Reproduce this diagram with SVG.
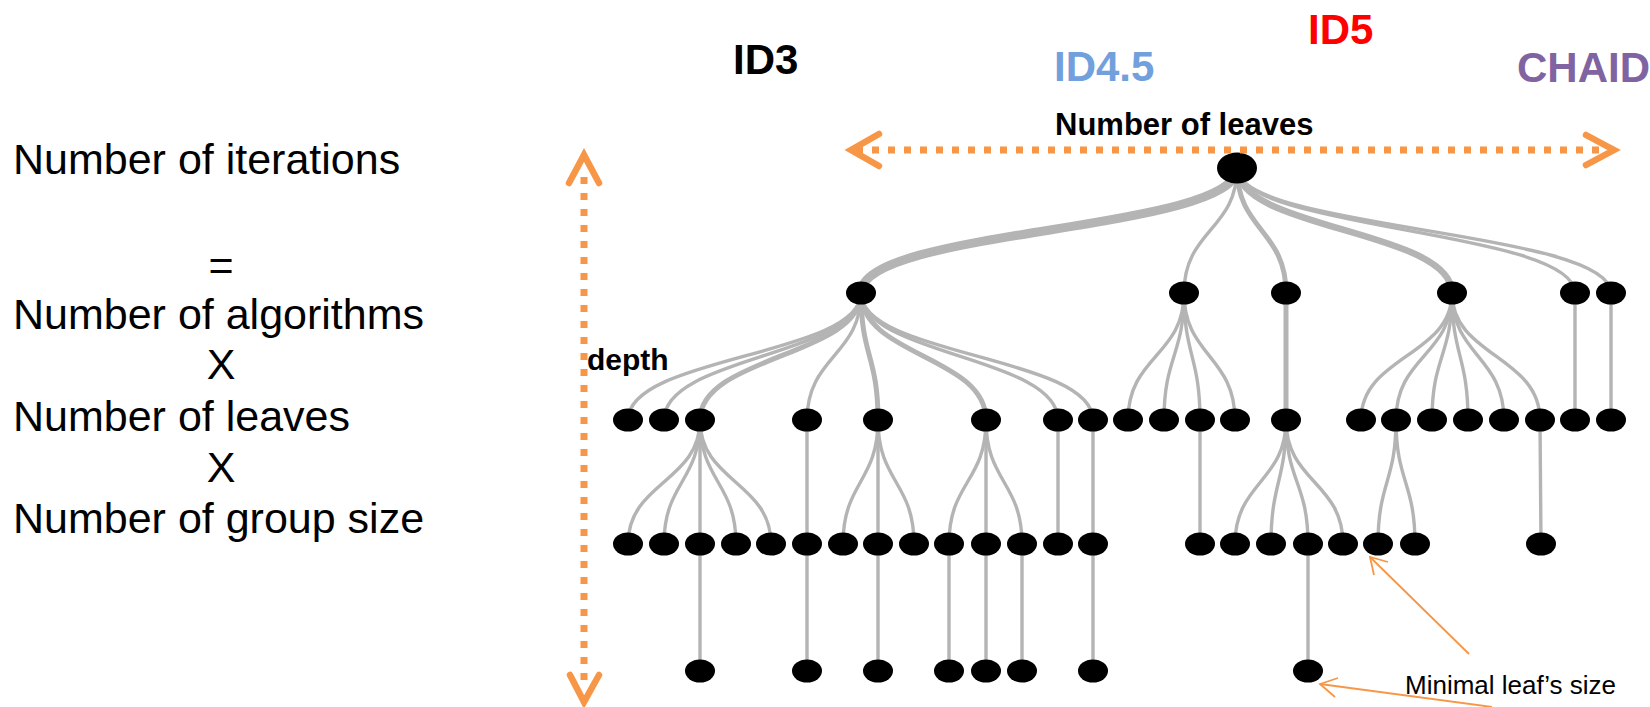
<svg xmlns="http://www.w3.org/2000/svg" width="1650" height="707" viewBox="0 0 1650 707">
<defs>
<style>
.lt{font-family:"Liberation Sans",Arial,sans-serif;font-size:43px;fill:#000}
.ttl{font-family:"Liberation Sans",Arial,sans-serif;font-size:42px;font-weight:bold}
.lbl{font-family:"Liberation Sans",Arial,sans-serif;font-weight:bold;fill:#000}
.nd{fill:#000}
.e{fill:none;stroke:#b4b4b4;stroke-linecap:round}
.w1{stroke-width:3.4}
.w2{stroke-width:5}
.w3{stroke-width:6.5}
.w4{stroke-width:9}
.dot{stroke:#f79646;stroke-width:7;stroke-dasharray:7 9;fill:none}
.chev{stroke:#f79646;stroke-width:6.5;fill:none;stroke-linecap:round;stroke-linejoin:miter}
.ann{stroke:#f79646;stroke-width:1.8;fill:none}
</style>
</defs>
<rect width="1650" height="707" fill="#fff"/>

<g id="left-text">
<text class="lt" x="13" y="174">Number of iterations</text>
<text class="lt" x="221" y="280" text-anchor="middle">=</text>
<text class="lt" x="13" y="329">Number of algorithms</text>
<text class="lt" x="221" y="379" text-anchor="middle">X</text>
<text class="lt" x="13" y="431">Number of leaves</text>
<text class="lt" x="221" y="482" text-anchor="middle">X</text>
<text class="lt" x="13" y="533">Number of group size</text>
</g>

<g id="titles">
<text class="ttl" x="733" y="74" fill="#000">ID3</text>
<text class="ttl" x="1054" y="81" fill="#71a0dc">ID4.5</text>
<text class="ttl" x="1308" y="44" fill="#ff0000">ID5</text>
<text class="ttl" x="1517" y="82" fill="#8064a2">CHAID</text>
</g>

<g id="connectors">
<path class="e w4" d="M1237 168 C1237 232 861 228 861 293"/>
<path class="e w1" d="M1237 168 C1237 230 1184 230 1184 293"/>
<path class="e w2" d="M1237 168 C1237 230 1286 230 1286 293"/>
<path class="e w3" d="M1237 168 C1237 230 1452 230 1452 293"/>
<path class="e w1" d="M1237 168 C1237 230 1575 230 1575 293"/>
<path class="e w1" d="M1237 168 C1237 230 1611 230 1611 293"/>
<path class="e w1" d="M861 293 C861 356 628 356 628 420"/>
<path class="e w1" d="M861 293 C861 356 664 356 664 420"/>
<path class="e w2" d="M861 293 C861 356 700 356 700 420"/>
<path class="e w1" d="M861 293 C861 356 807 356 807 420"/>
<path class="e w2" d="M861 293 C861 356 878 356 878 420"/>
<path class="e w2" d="M861 293 C861 356 986 356 986 420"/>
<path class="e w1" d="M861 293 C861 356 1058 356 1058 420"/>
<path class="e w1" d="M861 293 C861 356 1093 356 1093 420"/>
<path class="e w1" d="M1184 293 C1184 356 1128 356 1128 420"/>
<path class="e w1" d="M1184 293 C1184 356 1164 356 1164 420"/>
<path class="e w1" d="M1184 293 C1184 356 1200 356 1200 420"/>
<path class="e w1" d="M1184 293 C1184 356 1235 356 1235 420"/>
<path class="e w2" d="M1286 293 L1286 420"/>
<path class="e w1" d="M1452 293 C1452 356 1361 356 1361 420"/>
<path class="e w1" d="M1452 293 C1452 356 1396 356 1396 420"/>
<path class="e w1" d="M1452 293 C1452 356 1432 356 1432 420"/>
<path class="e w1" d="M1452 293 C1452 356 1468 356 1468 420"/>
<path class="e w1" d="M1452 293 C1452 356 1504 356 1504 420"/>
<path class="e w1" d="M1452 293 C1452 356 1540 356 1540 420"/>
<path class="e w1" d="M1575 293 L1575 420"/>
<path class="e w1" d="M1611 293 L1611 420"/>
<path class="e w1" d="M700 420 C700 482 628 482 628 544"/>
<path class="e w1" d="M700 420 C700 482 664 482 664 544"/>
<path class="e w1" d="M700 420 L700 544"/>
<path class="e w1" d="M700 420 C700 482 736 482 736 544"/>
<path class="e w1" d="M700 420 C700 482 771 482 771 544"/>
<path class="e w1" d="M807 420 L807 544"/>
<path class="e w1" d="M878 420 C878 482 843 482 843 544"/>
<path class="e w1" d="M878 420 L878 544"/>
<path class="e w1" d="M878 420 C878 482 914 482 914 544"/>
<path class="e w1" d="M986 420 C986 482 949 482 949 544"/>
<path class="e w1" d="M986 420 L986 544"/>
<path class="e w1" d="M986 420 C986 482 1022 482 1022 544"/>
<path class="e w1" d="M1058 420 L1058 544"/>
<path class="e w1" d="M1093 420 L1093 544"/>
<path class="e w1" d="M1200 420 L1200 544"/>
<path class="e w1" d="M1286 420 C1286 482 1235 482 1235 544"/>
<path class="e w1" d="M1286 420 C1286 482 1271 482 1271 544"/>
<path class="e w1" d="M1286 420 C1286 482 1308 482 1308 544"/>
<path class="e w1" d="M1286 420 C1286 482 1343 482 1343 544"/>
<path class="e w1" d="M1396 420 C1396 482 1378 482 1378 544"/>
<path class="e w1" d="M1396 420 C1396 482 1415 482 1415 544"/>
<path class="e w1" d="M1540 420 L1541 544"/>
<path class="e w1" d="M700 544 L700 671"/>
<path class="e w1" d="M807 544 L807 671"/>
<path class="e w1" d="M878 544 L878 671"/>
<path class="e w1" d="M949 544 L949 671"/>
<path class="e w1" d="M986 544 L986 671"/>
<path class="e w1" d="M1022 544 L1022 671"/>
<path class="e w1" d="M1093 544 L1093 671"/>
<path class="e w1" d="M1308 544 L1308 671"/>
</g>

<g id="n0"><ellipse class="nd" cx="1237" cy="168" rx="20" ry="15.5"/></g>
<g id="a1"><ellipse class="nd" cx="861" cy="293" rx="15" ry="11.5"/></g>
<g id="a2"><ellipse class="nd" cx="1184" cy="293" rx="15" ry="11.5"/></g>
<g id="a3"><ellipse class="nd" cx="1286" cy="293" rx="15" ry="11.5"/></g>
<g id="a4"><ellipse class="nd" cx="1452" cy="293" rx="15" ry="11.5"/></g>
<g id="a5"><ellipse class="nd" cx="1575" cy="293" rx="15" ry="11.5"/></g>
<g id="a6"><ellipse class="nd" cx="1611" cy="293" rx="15" ry="11.5"/></g>

<g id="b1"><ellipse class="nd" cx="628" cy="420" rx="15" ry="11.5"/></g>
<g id="b2"><ellipse class="nd" cx="664" cy="420" rx="15" ry="11.5"/></g>
<g id="b3"><ellipse class="nd" cx="700" cy="420" rx="15" ry="11.5"/></g>
<g id="b4"><ellipse class="nd" cx="807" cy="420" rx="15" ry="11.5"/></g>
<g id="b5"><ellipse class="nd" cx="878" cy="420" rx="15" ry="11.5"/></g>
<g id="b6"><ellipse class="nd" cx="986" cy="420" rx="15" ry="11.5"/></g>
<g id="b7"><ellipse class="nd" cx="1058" cy="420" rx="15" ry="11.5"/></g>
<g id="b8"><ellipse class="nd" cx="1093" cy="420" rx="15" ry="11.5"/></g>
<g id="b9"><ellipse class="nd" cx="1128" cy="420" rx="15" ry="11.5"/></g>
<g id="b10"><ellipse class="nd" cx="1164" cy="420" rx="15" ry="11.5"/></g>
<g id="b11"><ellipse class="nd" cx="1200" cy="420" rx="15" ry="11.5"/></g>
<g id="b12"><ellipse class="nd" cx="1235" cy="420" rx="15" ry="11.5"/></g>
<g id="b13"><ellipse class="nd" cx="1286" cy="420" rx="15" ry="11.5"/></g>
<g id="b14"><ellipse class="nd" cx="1361" cy="420" rx="15" ry="11.5"/></g>
<g id="b15"><ellipse class="nd" cx="1396" cy="420" rx="15" ry="11.5"/></g>
<g id="b16"><ellipse class="nd" cx="1432" cy="420" rx="15" ry="11.5"/></g>
<g id="b17"><ellipse class="nd" cx="1468" cy="420" rx="15" ry="11.5"/></g>
<g id="b18"><ellipse class="nd" cx="1504" cy="420" rx="15" ry="11.5"/></g>
<g id="b19"><ellipse class="nd" cx="1540" cy="420" rx="15" ry="11.5"/></g>
<g id="b20"><ellipse class="nd" cx="1575" cy="420" rx="15" ry="11.5"/></g>
<g id="b21"><ellipse class="nd" cx="1611" cy="420" rx="15" ry="11.5"/></g>

<g id="c1"><ellipse class="nd" cx="628" cy="544" rx="15" ry="11.5"/></g>
<g id="c2"><ellipse class="nd" cx="664" cy="544" rx="15" ry="11.5"/></g>
<g id="c3"><ellipse class="nd" cx="700" cy="544" rx="15" ry="11.5"/></g>
<g id="c4"><ellipse class="nd" cx="736" cy="544" rx="15" ry="11.5"/></g>
<g id="c5"><ellipse class="nd" cx="771" cy="544" rx="15" ry="11.5"/></g>
<g id="c6"><ellipse class="nd" cx="807" cy="544" rx="15" ry="11.5"/></g>
<g id="c7"><ellipse class="nd" cx="843" cy="544" rx="15" ry="11.5"/></g>
<g id="c8"><ellipse class="nd" cx="878" cy="544" rx="15" ry="11.5"/></g>
<g id="c9"><ellipse class="nd" cx="914" cy="544" rx="15" ry="11.5"/></g>
<g id="c10"><ellipse class="nd" cx="949" cy="544" rx="15" ry="11.5"/></g>
<g id="c11"><ellipse class="nd" cx="986" cy="544" rx="15" ry="11.5"/></g>
<g id="c12"><ellipse class="nd" cx="1022" cy="544" rx="15" ry="11.5"/></g>
<g id="c13"><ellipse class="nd" cx="1058" cy="544" rx="15" ry="11.5"/></g>
<g id="c14"><ellipse class="nd" cx="1093" cy="544" rx="15" ry="11.5"/></g>
<g id="c15"><ellipse class="nd" cx="1200" cy="544" rx="15" ry="11.5"/></g>
<g id="c16"><ellipse class="nd" cx="1235" cy="544" rx="15" ry="11.5"/></g>
<g id="c17"><ellipse class="nd" cx="1271" cy="544" rx="15" ry="11.5"/></g>
<g id="c18"><ellipse class="nd" cx="1308" cy="544" rx="15" ry="11.5"/></g>
<g id="c19"><ellipse class="nd" cx="1343" cy="544" rx="15" ry="11.5"/></g>
<g id="c20"><ellipse class="nd" cx="1378" cy="544" rx="15" ry="11.5"/></g>
<g id="c21"><ellipse class="nd" cx="1415" cy="544" rx="15" ry="11.5"/></g>
<g id="c22"><ellipse class="nd" cx="1541" cy="544" rx="15" ry="11.5"/></g>

<g id="d1"><ellipse class="nd" cx="700" cy="671" rx="15" ry="11.5"/></g>
<g id="d2"><ellipse class="nd" cx="807" cy="671" rx="15" ry="11.5"/></g>
<g id="d3"><ellipse class="nd" cx="878" cy="671" rx="15" ry="11.5"/></g>
<g id="d4"><ellipse class="nd" cx="949" cy="671" rx="15" ry="11.5"/></g>
<g id="d5"><ellipse class="nd" cx="986" cy="671" rx="15" ry="11.5"/></g>
<g id="d6"><ellipse class="nd" cx="1022" cy="671" rx="15" ry="11.5"/></g>
<g id="d7"><ellipse class="nd" cx="1093" cy="671" rx="15" ry="11.5"/></g>
<g id="d8"><ellipse class="nd" cx="1308" cy="671" rx="15" ry="11.5"/></g>

<g id="depth-arrow">
<line class="dot" x1="584" y1="177" x2="584" y2="682"/>
<path class="chev" d="M569 183 L584 155 L599 183"/>
<path class="chev" d="M570 675 L584 702 L599 675"/>
<text class="lbl" x="587" y="370" font-size="30">depth</text>
</g>

<g id="leaves-arrow">
<line class="dot" x1="856" y1="150" x2="1602" y2="150"/>
<path class="chev" d="M879 134 L851 150 L879 166"/>
<path class="chev" d="M1586 135 L1614 150 L1586 165"/>
<text class="lbl" x="1055" y="135" font-size="31">Number of leaves</text>
</g>

<g id="min-leaf">
<path class="ann" d="M1469 654 L1370 557"/>
<path class="ann" d="M1388 562 L1370 557 L1374 575"/>
<path class="ann" d="M1492 707 L1320 684"/>
<path class="ann" d="M1338 678 L1320 684 L1335 697"/>
<text x="1405" y="694" font-family="Liberation Sans, Arial, sans-serif" font-size="26" fill="#000">Minimal leaf’s size</text>
</g>
</svg>
